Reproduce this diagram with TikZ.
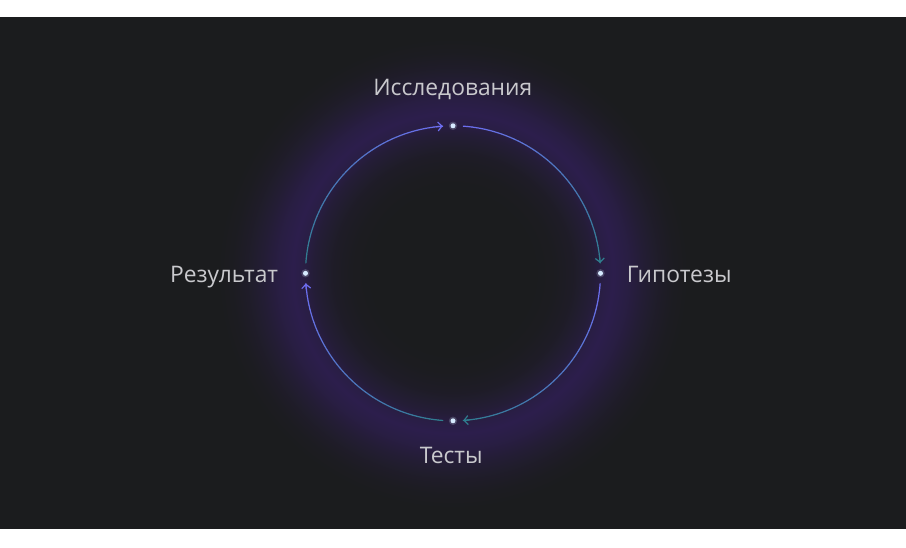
\documentclass[tikz,border=0pt]{standalone}
\usepackage{fontspec}
\setmainfont{Open Sans}
\usetikzlibrary{arrows.meta}
\definecolor{bgc}{HTML}{1B1C1E}
\definecolor{glowc}{HTML}{2C1E4C}
\definecolor{violetc}{HTML}{6E6EF2}
\definecolor{tealc}{HTML}{2F7D8E}
\definecolor{txtc}{HTML}{C9C9CD}
\definecolor{dotc}{HTML}{D6EAFF}
\colorlet{gA}{glowc!5!bgc}
\colorlet{gB}{glowc!20!bgc}
\colorlet{gC}{glowc!55!bgc}
\colorlet{gD}{glowc!85!bgc}
\colorlet{gE}{glowc!80!bgc}
\colorlet{gF}{glowc!50!bgc}
\colorlet{gG}{glowc!25!bgc}
\colorlet{gH}{glowc!8!bgc}
\pgfdeclareradialshading{ringglow}{\pgfpoint{0bp}{0bp}}{%
 color(0bp)=(bgc); color(8bp)=(bgc); color(10bp)=(gA); color(12bp)=(gB);
 color(14bp)=(gC); color(15bp)=(gD); color(16bp)=(glowc); color(17.5bp)=(gE);
 color(19bp)=(gF); color(20.5bp)=(gG); color(22bp)=(gH); color(23.5bp)=(bgc); color(50bp)=(bgc)}
\def\ringR{147.5}
\tikzset{
  arcline/.style={line width=1.2pt, line cap=round},
  dotnode/.style={circle, fill=dotc, inner sep=0pt, minimum size=5pt},
  lbl/.style={text=txtc, inner sep=0pt, font=\fontsize{22.8}{27}\selectfont},
}
\newcommand\gradarc[4]{%
 \foreach \i in {1,...,48}{%
  \pgfmathsetmacro\angA{#1+(#2-#1)*(\i-1)/48}%
  \pgfmathsetmacro\angB{#1+(#2-#1)*\i/48}%
  \pgfmathsetmacro\pc{100*(\i-0.5)/48}%
  \draw[arcline, color=#4!\pc!#3] ([shift={(\angA:\ringR pt)}]c) arc[start angle=\angA, end angle=\angB, radius=\ringR pt];
 }%
 \pgfmathsetmacro\angE{#2-(#2-#1)*0.03}%
 \draw[arcline, color=#4, -{Straight Barb[length=4pt,width=9pt]}] ([shift={(\angE:\ringR pt)}]c) arc[start angle=\angE, end angle=#2, radius=\ringR pt];
}
\begin{document}
\begin{tikzpicture}[x=1pt,y=1pt]
\useasboundingbox (0,0) rectangle (906,547);
\fill[white] (0,0) rectangle (906,547);
\fill[bgc] (0,18) rectangle (906,529.7);
\coordinate (c) at (453,273.7);
\shade[shading=ringglow] (c) circle (250pt);
% arcs
\gradarc{176}{94}{tealc}{violetc}
\gradarc{86}{4}{violetc}{tealc}
\gradarc{-4}{-86}{violetc}{tealc}
\gradarc{-94}{-176}{tealc}{violetc}
% dots
\foreach \a/\n in {90/top,0/right,-90/bottom,180/left}{
  \fill[dotc, opacity=0.2] ([shift={(\a:\ringR pt)}]c) circle (4.2pt);
  \node[dotnode] (\n) at ([shift={(\a:\ringR pt)}]c) {};
}
% labels
\node[lbl, anchor=base] (t1) at (452.8,451) {Исследования};
\node[lbl, anchor=base west] (t2) at (626.7,264.3) {Гипотезы};
\node[lbl, anchor=base] (t3) at (451.2,83.7) {Тесты};
\node[lbl, anchor=base east] (t4) at (278.3,264.3) {Результат};
\end{tikzpicture}
\end{document}
